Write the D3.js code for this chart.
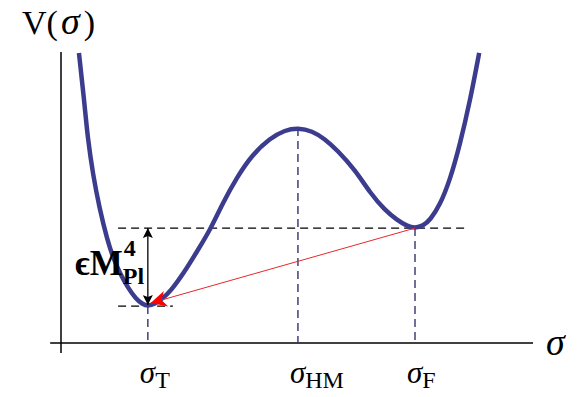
<!DOCTYPE html>
<html><head><meta charset="utf-8">
<script src="https://cdn.jsdelivr.net/npm/d3@7"></script>
<style>body{margin:0;background:#fff}svg{display:block}</style>
</head><body><svg id="c" width="582" height="397"></svg>
<script>
// potential curve samples (σ, V) in arbitrary units
const sigma = [3.8,4.9,5.7,6.8,8.1,9.8,11.2,12.5,14.2,15.9,17.2,18.4,19.9,21.4,23.1,26.3,29.0,31.6,34.3,37.3,40.5,44.3,47.5,50.2,53.2,55.9,58.5,62.3,65.5,68.6,71.2,73.3,75.0,76.7,78.2,80.3,82.4,84.5,86.7,88.6];
const V     = [96.7,81,67.7,56,45.3,34.3,27.7,23.3,18.3,14.7,13,12.3,13,14.7,17,24,31,37.7,46.7,55.3,62.7,68.3,71,71.7,70.7,68,64.3,57.7,50,44.3,41,39,38.3,39,41,46,54.3,66,81,96.7];
// special points
const tickNames = ["T","HM","F"];
const tickSigma = [18.4,50.2,75.0];
const tickV     = [12.3,71.7,38.3];
// guide extents (σ)
const upperGuide = [12.1,86.3];
const lowerGuide = [12.1,23.7];

const svg = d3.select("#c");
const x = d3.scaleLinear().domain([0,100]).range([61,533]);
const y = d3.scaleLinear().domain([0,100]).range([343,43]);

const defs = svg.append("defs");
defs.append("marker").attr("id","bk").attr("viewBox","0 0 10 10").attr("refX",10).attr("refY",5)
  .attr("markerWidth",13).attr("markerHeight",10).attr("markerUnits","userSpaceOnUse").attr("orient","auto-start-reverse")
  .append("path").attr("d","M0,0L10,5L0,10L2,5Z").attr("fill","#000");
defs.append("marker").attr("id","rd").attr("viewBox","0 0 10 10").attr("refX",10).attr("refY",5)
  .attr("markerWidth",26).attr("markerHeight",16).attr("markerUnits","userSpaceOnUse").attr("orient","auto")
  .append("path").attr("d","M0,0L10,5L0,10L3,5Z").attr("fill","#ff0000");

// axes
svg.append("line").attr("x1",x(0)).attr("x2",x(0)).attr("y1",y(97)).attr("y2",y(-3.3))
  .attr("stroke","#000").attr("stroke-width",1.5);
svg.append("line").attr("x1",x(-2.3)).attr("x2",x(100)).attr("y1",y(0)).attr("y2",y(0))
  .attr("stroke","#000").attr("stroke-width",1.5);

// guides
const dash = "8,5";
svg.append("line").attr("x1",x(upperGuide[0])).attr("x2",x(upperGuide[1])).attr("y1",y(tickV[2])).attr("y2",y(tickV[2]))
  .attr("stroke","#000").attr("stroke-width",1.4).attr("stroke-dasharray",dash);
svg.append("line").attr("x1",x(lowerGuide[0])).attr("x2",x(lowerGuide[1])).attr("y1",y(tickV[0])).attr("y2",y(tickV[0]))
  .attr("stroke","#000").attr("stroke-width",1.4).attr("stroke-dasharray",dash);
tickSigma.forEach((s,i)=>{
  svg.append("line").attr("x1",x(s)).attr("x2",x(s)).attr("y1",y(tickV[i])).attr("y2",y(0))
    .attr("stroke","#33336e").attr("stroke-width",1.4).attr("stroke-dasharray",dash);
});

// curve
const pts = sigma.map((s,i)=>[s,V[i]]);
svg.append("path").datum(pts)
  .attr("d",d3.line().x(d=>x(d[0])).y(d=>y(d[1])).curve(d3.curveBasis))
  .attr("fill","none").attr("stroke","#3c3c8e").attr("stroke-width",4.5).attr("stroke-linecap","butt");

// red tunnelling arrow
svg.append("line").attr("x1",x(tickSigma[2])).attr("y1",y(tickV[2])).attr("x2",x(19.0)).attr("y2",y(13.3))
  .attr("stroke","#e8282a").attr("stroke-width",1).attr("marker-end","url(#rd)");

// double arrow
svg.append("line").attr("x1",x(tickSigma[0])).attr("x2",x(tickSigma[0])).attr("y1",y(tickV[2])).attr("y2",y(tickV[0])-1)
  .attr("stroke","#000").attr("stroke-width",1.3).attr("marker-start","url(#bk)").attr("marker-end","url(#bk)");

// epsilon M_Pl^4 label
const lx = x(tickSigma[0]) - 25, ly = y((tickV[0]+tickV[2])/2) + 8;
svg.append("text").attr("x",lx).attr("y",ly).attr("text-anchor","end")
  .attr("font-family","Liberation Serif").attr("font-weight","bold").attr("font-size",35).text("ϵM");
svg.append("text").attr("x",lx+1).attr("y",ly-19)
  .attr("font-family","Liberation Serif").attr("font-weight","bold").attr("font-size",24).text("4");
svg.append("text").attr("x",lx).attr("y",ly+9)
  .attr("font-family","Liberation Serif").attr("font-weight","bold").attr("font-size",24).text("Pl");

// axis titles
const vt = svg.append("text").attr("x",22).attr("y",34).attr("font-family","Liberation Serif").attr("font-size",34);
vt.append("tspan").text("V(");
vt.append("tspan").attr("font-style","italic").attr("font-size",38).attr("dx",3).text("σ");
vt.append("tspan").attr("dx",4).text(")");
svg.append("text").attr("x",546).attr("y",355).attr("font-family","Liberation Serif").attr("font-style","italic")
  .attr("font-size",38).text("σ");

// tick labels
tickNames.forEach((n,i)=>{
  const t = svg.append("text").attr("x",x(tickSigma[i])-8).attr("y",383).attr("font-family","Liberation Serif");
  t.append("tspan").attr("font-style","italic").attr("font-size",31).text("σ");
  t.append("tspan").attr("font-size",24).attr("dy",5).text(n);
});
</script></body></html>
